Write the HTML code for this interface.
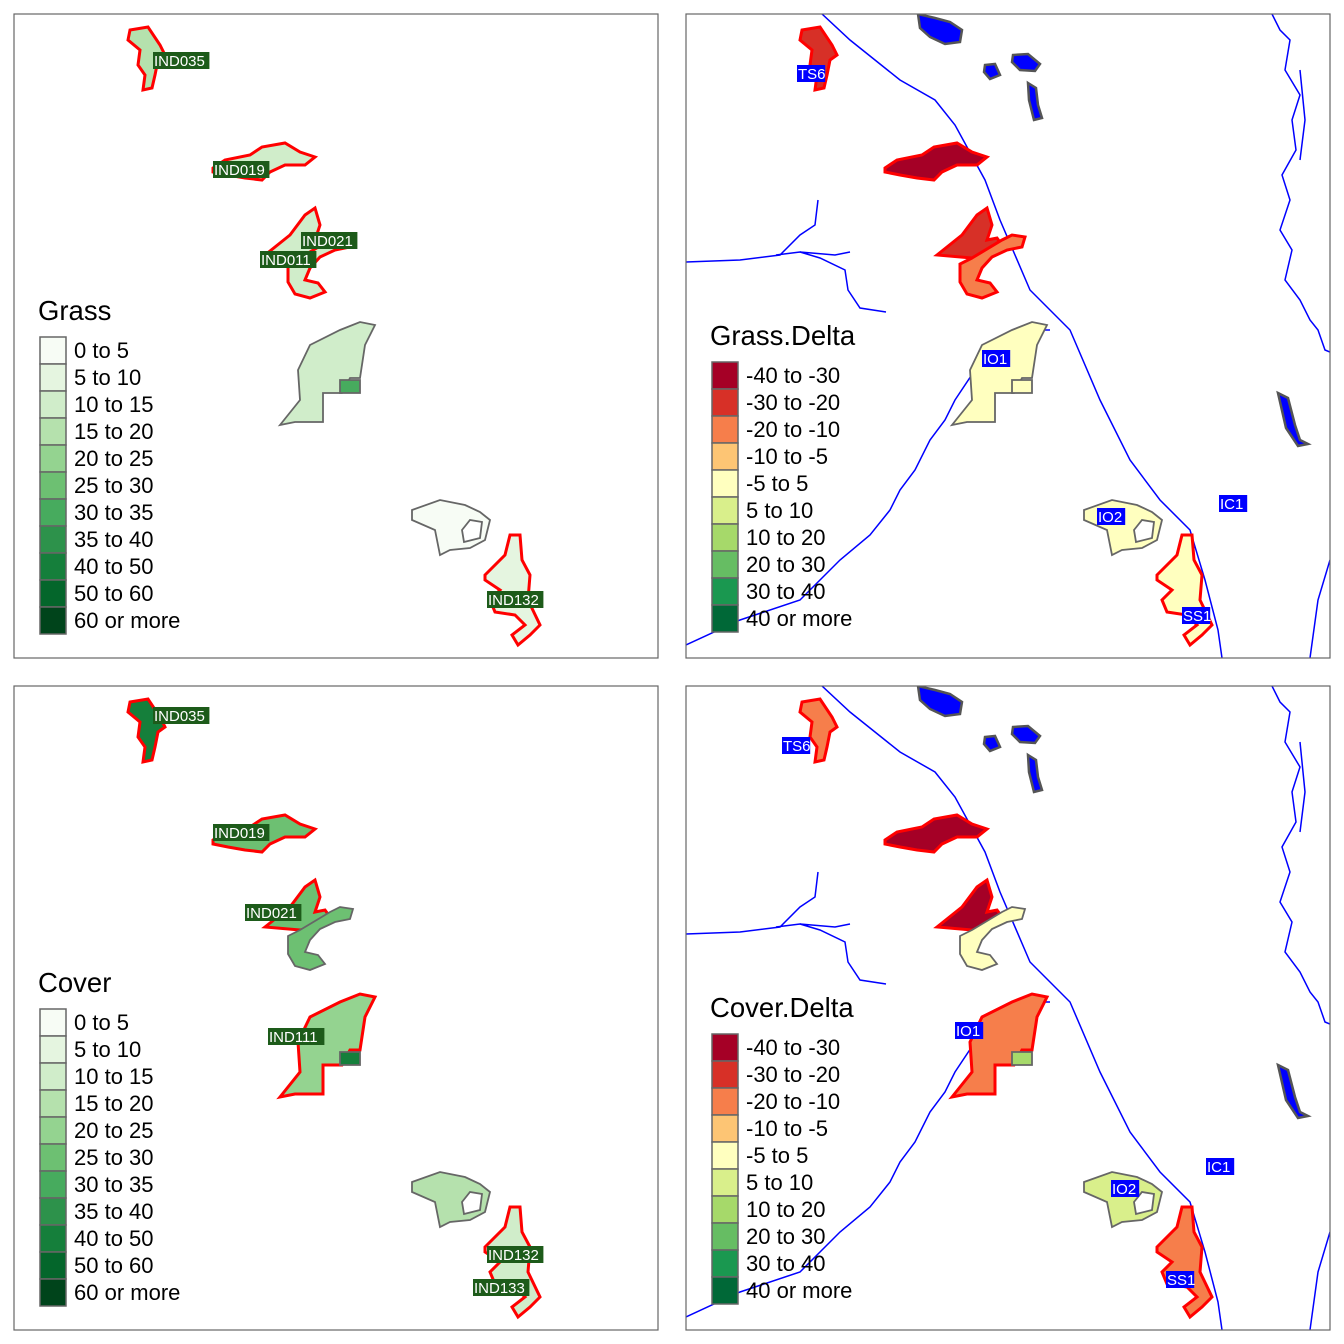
<!DOCTYPE html>
<html><head><meta charset="utf-8"><style>
body{margin:0;background:#fff}
svg{display:block;font-family:"Liberation Sans",Arial,sans-serif}
</style></head><body>
<svg id="s" width="1344" height="1344" viewBox="0 0 1344 1344"></svg>
<script>
const greenLabels=["0 to 5","5 to 10","10 to 15","15 to 20","20 to 25","25 to 30","30 to 35","35 to 40","40 to 50","50 to 60","60 or more"];
const greenColors=["#f7fcf5","#e5f5e0","#d0edca","#b5e1ad","#94d390","#6dc072","#47ab5e","#2d924b","#157f3b","#04662b","#00441b"];
const deltaLabels=["-40 to -30","-30 to -20","-20 to -10","-10 to -5","-5 to 5","5 to 10","10 to 20","20 to 30","30 to 40","40 or more"];
const deltaColors=["#a50026","#d73027","#f67e4b","#fdc574","#ffffbf","#d9ef8b","#a6d96a","#66bd63","#1a9850","#006837"];
const NS="http://www.w3.org/2000/svg";
const svg=document.getElementById('s');
function el(t,a,p){const e=document.createElementNS(NS,t);for(const k in a)e.setAttribute(k,a[k]);(p||svg).appendChild(e);return e;}
const S={
a035:"M130,30 L148,27 L160,45 L165,55 L158,60 L155,75 L152,88 L143,90 L145,75 L138,65 L140,50 L128,40Z",
a019:"M213,168 L225,160 L250,155 L262,147 L285,143 L300,152 L315,157 L305,165 L285,165 L270,172 L262,180 L245,178 L228,175 L213,172Z",
a021u:"M265,255 L290,235 L305,215 L315,208 L320,225 L315,240 L325,238 L330,245 L320,255 L300,258Z",
a021l:"M300,258 L330,240 L340,235 L353,237 L350,247 L335,250 L320,257 L310,268 L305,280 L318,283 L325,292 L310,298 L295,294 L288,282 L288,264Z",
big:"M280,425 L300,400 L298,370 L310,345 L340,330 L360,322 L375,325 L365,345 L360,378 L350,378 L342,393 L323,393 L323,422 L295,422Z",
sq:"M340,380 L360,380 L360,393 L340,393Z",
io2:"M412,510 L440,500 L465,505 L480,512 L490,520 L485,540 L470,548 L450,550 L440,555 L435,530 L412,520Z M462,530 L470,520 L482,522 L480,538 L464,542Z",
i132:"M485,575 L505,555 L510,535 L520,535 L522,560 L530,575 L528,600 L540,625 L530,635 L518,645 L512,635 L525,625 L515,615 L495,612 L490,600 L500,590 L485,580Z"
};
const panels=[
 {x:0,y:0,title:"Grass",cols:greenColors,labs:greenLabels,leg:[38,337],
  f:{a035:[3,'r'],a019:[2,'r'],a021u:[2,'r'],a021l:[2,'r'],big:[2,'g'],sq:[6,'g'],io2:[0,'g'],i132:[1,'r']},
  lab:[["IND035",153,52],["IND019",213,161],["IND021",301,232],["IND011",260,251],["IND132",487,591]],blue:false},
 {x:672,y:0,title:"Grass.Delta",cols:deltaColors,labs:deltaLabels,leg:[710,362],
  f:{a035:[1,'r'],a019:[0,'r'],a021u:[1,'r'],a021l:[2,'r'],big:[4,'g'],sq:[4,'g'],io2:[4,'g'],i132:[4,'r']},
  lab:[["TS6",797,65],["IO1",982,350],["IO2",1097,508],["IC1",1219,495],["SS1",1182,607]],blue:true},
 {x:0,y:672,title:"Cover",cols:greenColors,labs:greenLabels,leg:[38,1009],
  f:{a035:[8,'r'],a019:[5,'r'],a021u:[5,'r'],a021l:[5,'g'],big:[4,'r'],sq:[8,'g'],io2:[3,'g'],i132:[2,'r']},
  lab:[["IND035",153,707],["IND019",213,824],["IND021",245,904],["IND111",268,1028],["IND132",487,1246],["IND133",473,1279]],blue:false},
 {x:672,y:672,title:"Cover.Delta",cols:deltaColors,labs:deltaLabels,leg:[710,1034],
  f:{a035:[2,'r'],a019:[0,'r'],a021u:[0,'r'],a021l:[4,'g'],big:[2,'r'],sq:[6,'g'],io2:[5,'g'],i132:[2,'r']},
  lab:[["TS6",782,737],["IO1",955,1022],["IO2",1111,1180],["IC1",1206,1158],["SS1",1166,1271]],blue:true}
];
const rivers=["M822,14 L850,40 L900,80 L935,100 L955,125 L985,180 L1000,220 L1030,290 L1070,330 L1100,400 L1130,460 L1160,500 L1190,530 L1205,580 L1218,630 L1222,658",
"M686,645 L740,620 L800,600 L840,560 L870,535 L890,510 L900,490 L915,470 L930,440 L945,420 L955,400 L975,370 L1000,345 L1020,330 L1050,330",
"M686,262 L740,260 L780,255 L800,235 L815,225 L818,200",
"M776,255 L800,252 L835,255 L850,252 M800,252 L820,258 L845,270 L848,290 L860,308 L886,312",
"M1272,14 L1280,30 L1290,40 L1285,70 L1300,95 L1292,120 L1296,150 L1282,175 L1290,200 L1280,230 L1292,250 L1285,280 L1300,300 L1310,320 L1318,330 L1325,350 L1330,352",
"M1300,70 L1305,120 L1300,160","M1310,658 L1318,600 L1330,560"];
const lakes=["M918,14 L935,18 L950,22 L962,30 L960,42 L945,44 L930,37 L920,28Z","M985,65 L995,64 L1000,75 L990,79 L984,72Z","M1013,55 L1028,54 L1040,64 L1035,71 L1020,70 L1012,62Z","M1028,83 L1036,88 L1038,105 L1042,118 L1034,120 L1029,100Z","M1278,393 L1288,398 L1295,425 L1300,440 L1308,444 L1298,446 L1286,428Z"];
panels.forEach((p,i)=>{
 const g=el('g',{transform:`translate(${p.x},${p.y})`});
 
 
 const cp=el('clipPath',{id:'c'+i},g);el('rect',{x:14,y:14,width:644,height:644},cp);
 const m=el('g',{'clip-path':`url(#c${i})`},g);
 if(p.blue){
  rivers.forEach(d=>{const r=el('path',{d:d,transform:'translate(-672,0)',fill:'none',stroke:'#0000ff','stroke-width':1.5},m);});
  lakes.forEach(d=>{const l=el('path',{d:d,transform:'translate(-672,0)',fill:'#0000ff',stroke:'#555','stroke-width':2.5},m);});
 }
 for(const k in S){
  const [ci,o]=p.f[k];
  const sh=el('path',{d:S[k],fill:p.cols[ci],stroke:o=='r'?'#ff0000':'#666','stroke-width':o=='r'?3:1.8,'fill-rule':'evenodd'},m);
  
  
 }
 el('rect',{x:14,y:14,width:644,height:644,fill:'none',stroke:'#666','stroke-width':1.2},g);
 p.lab.forEach(([t,x,y])=>{
  const w=t.length*9.4;
  const b=el('rect',{x:x-p.x,y:y-p.y,width:w,height:17,fill:p.blue?'#0000ff':'#1d5b1a'},g);
  
  
  const tx=el('text',{x:x-p.x+1,y:y-p.y+14,fill:'#fff','font-size':15},g);tx.textContent=t;
  
  
 });
 const [lx,ly]=p.leg;const X=lx-p.x,Y=ly-p.y;
 const tt=el('text',{x:X,y:Y-17,'font-size':27.5,fill:'#000'},g);tt.textContent=p.title;
 
 
 p.labs.forEach((l,j)=>{
  const r=el('rect',{x:X+2,y:Y+j*27,width:26,height:27,fill:p.cols[j],stroke:'#666','stroke-width':1.5},g);
  
  
  const t=el('text',{x:X+36,y:Y+j*27+21,'font-size':22,fill:'#000'},g);t.textContent=l;
  
  
 });
});
</script></body></html>
